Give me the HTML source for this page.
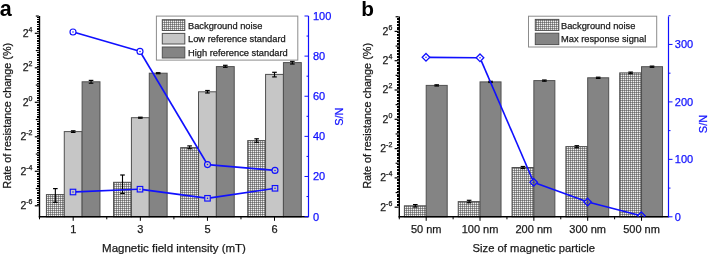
<!DOCTYPE html>
<html><head><meta charset="utf-8"><style>
html,body{margin:0;padding:0;background:#fff;width:708px;height:254px;overflow:hidden;}
svg{display:block;will-change:transform;}
</style></head><body>
<svg width="708" height="254" viewBox="0 0 708 254" font-family="Liberation Sans, sans-serif">
<defs><pattern id="hatch" width="2" height="2" patternUnits="userSpaceOnUse"><rect width="2" height="2" fill="#989898"/><rect x="0" y="0" width="1" height="1" fill="#6c6c6c"/><rect x="1" y="1" width="1" height="1" fill="#f0f0f0"/></pattern></defs>
<rect width="708" height="254" fill="#fff"/>
<rect x="46.42" y="194.60" width="17.85" height="22.20" fill="url(#hatch)" stroke="#505050" stroke-width="1"/>
<rect x="64.28" y="131.60" width="17.85" height="85.20" fill="#c6c6c6" stroke="#505050" stroke-width="1"/>
<rect x="82.12" y="81.80" width="17.85" height="135.00" fill="#848484" stroke="#505050" stroke-width="1"/>
<rect x="113.57" y="182.30" width="17.85" height="34.50" fill="url(#hatch)" stroke="#505050" stroke-width="1"/>
<rect x="131.42" y="117.70" width="17.85" height="99.10" fill="#c6c6c6" stroke="#505050" stroke-width="1"/>
<rect x="149.28" y="73.20" width="17.85" height="143.60" fill="#848484" stroke="#505050" stroke-width="1"/>
<rect x="180.67" y="147.60" width="17.85" height="69.20" fill="url(#hatch)" stroke="#505050" stroke-width="1"/>
<rect x="198.52" y="91.80" width="17.85" height="125.00" fill="#c6c6c6" stroke="#505050" stroke-width="1"/>
<rect x="216.38" y="66.60" width="17.85" height="150.20" fill="#848484" stroke="#505050" stroke-width="1"/>
<rect x="247.72" y="140.60" width="17.85" height="76.20" fill="url(#hatch)" stroke="#505050" stroke-width="1"/>
<rect x="265.57" y="74.40" width="17.85" height="142.40" fill="#c6c6c6" stroke="#505050" stroke-width="1"/>
<rect x="283.43" y="62.60" width="17.85" height="154.20" fill="#848484" stroke="#505050" stroke-width="1"/>
<line x1="55.35" y1="188.60" x2="55.35" y2="202.30" stroke="#000" stroke-width="1.1"/>
<line x1="53.05" y1="188.60" x2="57.65" y2="188.60" stroke="#000" stroke-width="1.2"/>
<line x1="53.05" y1="202.30" x2="57.65" y2="202.30" stroke="#000" stroke-width="1.2"/>
<line x1="73.20" y1="130.80" x2="73.20" y2="132.40" stroke="#000" stroke-width="1.1"/>
<line x1="70.90" y1="130.80" x2="75.50" y2="130.80" stroke="#000" stroke-width="1.2"/>
<line x1="70.90" y1="132.40" x2="75.50" y2="132.40" stroke="#000" stroke-width="1.2"/>
<line x1="91.05" y1="80.40" x2="91.05" y2="83.20" stroke="#000" stroke-width="1.1"/>
<line x1="88.75" y1="80.40" x2="93.35" y2="80.40" stroke="#000" stroke-width="1.2"/>
<line x1="88.75" y1="83.20" x2="93.35" y2="83.20" stroke="#000" stroke-width="1.2"/>
<line x1="122.50" y1="175.00" x2="122.50" y2="193.40" stroke="#000" stroke-width="1.1"/>
<line x1="120.20" y1="175.00" x2="124.80" y2="175.00" stroke="#000" stroke-width="1.2"/>
<line x1="120.20" y1="193.40" x2="124.80" y2="193.40" stroke="#000" stroke-width="1.2"/>
<line x1="140.35" y1="117.20" x2="140.35" y2="118.20" stroke="#000" stroke-width="1.1"/>
<line x1="138.05" y1="117.20" x2="142.65" y2="117.20" stroke="#000" stroke-width="1.2"/>
<line x1="138.05" y1="118.20" x2="142.65" y2="118.20" stroke="#000" stroke-width="1.2"/>
<line x1="158.20" y1="72.70" x2="158.20" y2="73.70" stroke="#000" stroke-width="1.1"/>
<line x1="155.90" y1="72.70" x2="160.50" y2="72.70" stroke="#000" stroke-width="1.2"/>
<line x1="155.90" y1="73.70" x2="160.50" y2="73.70" stroke="#000" stroke-width="1.2"/>
<line x1="189.60" y1="145.90" x2="189.60" y2="148.70" stroke="#000" stroke-width="1.1"/>
<line x1="187.30" y1="145.90" x2="191.90" y2="145.90" stroke="#000" stroke-width="1.2"/>
<line x1="187.30" y1="148.70" x2="191.90" y2="148.70" stroke="#000" stroke-width="1.2"/>
<line x1="207.45" y1="90.50" x2="207.45" y2="93.00" stroke="#000" stroke-width="1.1"/>
<line x1="205.15" y1="90.50" x2="209.75" y2="90.50" stroke="#000" stroke-width="1.2"/>
<line x1="205.15" y1="93.00" x2="209.75" y2="93.00" stroke="#000" stroke-width="1.2"/>
<line x1="225.30" y1="65.30" x2="225.30" y2="67.30" stroke="#000" stroke-width="1.1"/>
<line x1="223.00" y1="65.30" x2="227.60" y2="65.30" stroke="#000" stroke-width="1.2"/>
<line x1="223.00" y1="67.30" x2="227.60" y2="67.30" stroke="#000" stroke-width="1.2"/>
<line x1="256.65" y1="138.80" x2="256.65" y2="142.30" stroke="#000" stroke-width="1.1"/>
<line x1="254.35" y1="138.80" x2="258.95" y2="138.80" stroke="#000" stroke-width="1.2"/>
<line x1="254.35" y1="142.30" x2="258.95" y2="142.30" stroke="#000" stroke-width="1.2"/>
<line x1="274.50" y1="72.30" x2="274.50" y2="76.90" stroke="#000" stroke-width="1.1"/>
<line x1="272.20" y1="72.30" x2="276.80" y2="72.30" stroke="#000" stroke-width="1.2"/>
<line x1="272.20" y1="76.90" x2="276.80" y2="76.90" stroke="#000" stroke-width="1.2"/>
<line x1="292.35" y1="61.30" x2="292.35" y2="64.00" stroke="#000" stroke-width="1.1"/>
<line x1="290.05" y1="61.30" x2="294.65" y2="61.30" stroke="#000" stroke-width="1.2"/>
<line x1="290.05" y1="64.00" x2="294.65" y2="64.00" stroke="#000" stroke-width="1.2"/>
<rect x="156.40" y="16.10" width="141.40" height="44.00" fill="#fff" stroke="#8c8c8c" stroke-width="1"/>
<rect x="162.30" y="19.70" width="22.50" height="10.80" fill="url(#hatch)" stroke="#505050" stroke-width="1"/>
<rect x="162.30" y="33.40" width="22.50" height="10.60" fill="#c6c6c6" stroke="#505050" stroke-width="1"/>
<rect x="162.30" y="47.00" width="22.50" height="11.00" fill="#848484" stroke="#505050" stroke-width="1"/>
<text x="188.00" y="28.60" font-size="9.3" text-anchor="start" fill="#1a1a1a" stroke="#1a1a1a" stroke-width="0.25" >Background noise</text>
<text x="188.00" y="42.30" font-size="9.3" text-anchor="start" fill="#1a1a1a" stroke="#1a1a1a" stroke-width="0.25" >Low reference standard</text>
<text x="188.00" y="55.80" font-size="9.3" text-anchor="start" fill="#1a1a1a" stroke="#1a1a1a" stroke-width="0.25" >High reference standard</text>
<line x1="39.50" y1="16.00" x2="39.50" y2="217.50" stroke="#000" stroke-width="1.4"/>
<line x1="38.80" y1="216.80" x2="308.00" y2="216.80" stroke="#000" stroke-width="1.4"/>
<line x1="34.80" y1="205.80" x2="38.80" y2="205.80" stroke="#000" stroke-width="1.2"/>
<line x1="36.80" y1="204.07" x2="38.80" y2="204.07" stroke="#000" stroke-width="1" shape-rendering="crispEdges"/>
<line x1="36.80" y1="202.35" x2="38.80" y2="202.35" stroke="#000" stroke-width="1" shape-rendering="crispEdges"/>
<line x1="36.80" y1="200.62" x2="38.80" y2="200.62" stroke="#000" stroke-width="1" shape-rendering="crispEdges"/>
<line x1="36.80" y1="198.90" x2="38.80" y2="198.90" stroke="#000" stroke-width="1" shape-rendering="crispEdges"/>
<line x1="36.80" y1="197.18" x2="38.80" y2="197.18" stroke="#000" stroke-width="1" shape-rendering="crispEdges"/>
<line x1="36.80" y1="195.45" x2="38.80" y2="195.45" stroke="#000" stroke-width="1" shape-rendering="crispEdges"/>
<line x1="36.80" y1="193.72" x2="38.80" y2="193.72" stroke="#000" stroke-width="1" shape-rendering="crispEdges"/>
<line x1="36.80" y1="192.00" x2="38.80" y2="192.00" stroke="#000" stroke-width="1" shape-rendering="crispEdges"/>
<line x1="36.80" y1="190.27" x2="38.80" y2="190.27" stroke="#000" stroke-width="1" shape-rendering="crispEdges"/>
<line x1="35.80" y1="188.55" x2="38.80" y2="188.55" stroke="#000" stroke-width="1.2"/>
<line x1="36.80" y1="186.82" x2="38.80" y2="186.82" stroke="#000" stroke-width="1" shape-rendering="crispEdges"/>
<line x1="36.80" y1="185.10" x2="38.80" y2="185.10" stroke="#000" stroke-width="1" shape-rendering="crispEdges"/>
<line x1="36.80" y1="183.38" x2="38.80" y2="183.38" stroke="#000" stroke-width="1" shape-rendering="crispEdges"/>
<line x1="36.80" y1="181.65" x2="38.80" y2="181.65" stroke="#000" stroke-width="1" shape-rendering="crispEdges"/>
<line x1="36.80" y1="179.93" x2="38.80" y2="179.93" stroke="#000" stroke-width="1" shape-rendering="crispEdges"/>
<line x1="36.80" y1="178.20" x2="38.80" y2="178.20" stroke="#000" stroke-width="1" shape-rendering="crispEdges"/>
<line x1="36.80" y1="176.47" x2="38.80" y2="176.47" stroke="#000" stroke-width="1" shape-rendering="crispEdges"/>
<line x1="36.80" y1="174.75" x2="38.80" y2="174.75" stroke="#000" stroke-width="1" shape-rendering="crispEdges"/>
<line x1="36.80" y1="173.02" x2="38.80" y2="173.02" stroke="#000" stroke-width="1" shape-rendering="crispEdges"/>
<line x1="34.80" y1="171.30" x2="38.80" y2="171.30" stroke="#000" stroke-width="1.2"/>
<line x1="36.80" y1="169.57" x2="38.80" y2="169.57" stroke="#000" stroke-width="1" shape-rendering="crispEdges"/>
<line x1="36.80" y1="167.85" x2="38.80" y2="167.85" stroke="#000" stroke-width="1" shape-rendering="crispEdges"/>
<line x1="36.80" y1="166.12" x2="38.80" y2="166.12" stroke="#000" stroke-width="1" shape-rendering="crispEdges"/>
<line x1="36.80" y1="164.40" x2="38.80" y2="164.40" stroke="#000" stroke-width="1" shape-rendering="crispEdges"/>
<line x1="36.80" y1="162.68" x2="38.80" y2="162.68" stroke="#000" stroke-width="1" shape-rendering="crispEdges"/>
<line x1="36.80" y1="160.95" x2="38.80" y2="160.95" stroke="#000" stroke-width="1" shape-rendering="crispEdges"/>
<line x1="36.80" y1="159.22" x2="38.80" y2="159.22" stroke="#000" stroke-width="1" shape-rendering="crispEdges"/>
<line x1="36.80" y1="157.50" x2="38.80" y2="157.50" stroke="#000" stroke-width="1" shape-rendering="crispEdges"/>
<line x1="36.80" y1="155.78" x2="38.80" y2="155.78" stroke="#000" stroke-width="1" shape-rendering="crispEdges"/>
<line x1="35.80" y1="154.05" x2="38.80" y2="154.05" stroke="#000" stroke-width="1.2"/>
<line x1="36.80" y1="152.32" x2="38.80" y2="152.32" stroke="#000" stroke-width="1" shape-rendering="crispEdges"/>
<line x1="36.80" y1="150.60" x2="38.80" y2="150.60" stroke="#000" stroke-width="1" shape-rendering="crispEdges"/>
<line x1="36.80" y1="148.88" x2="38.80" y2="148.88" stroke="#000" stroke-width="1" shape-rendering="crispEdges"/>
<line x1="36.80" y1="147.15" x2="38.80" y2="147.15" stroke="#000" stroke-width="1" shape-rendering="crispEdges"/>
<line x1="36.80" y1="145.43" x2="38.80" y2="145.43" stroke="#000" stroke-width="1" shape-rendering="crispEdges"/>
<line x1="36.80" y1="143.70" x2="38.80" y2="143.70" stroke="#000" stroke-width="1" shape-rendering="crispEdges"/>
<line x1="36.80" y1="141.97" x2="38.80" y2="141.97" stroke="#000" stroke-width="1" shape-rendering="crispEdges"/>
<line x1="36.80" y1="140.25" x2="38.80" y2="140.25" stroke="#000" stroke-width="1" shape-rendering="crispEdges"/>
<line x1="36.80" y1="138.53" x2="38.80" y2="138.53" stroke="#000" stroke-width="1" shape-rendering="crispEdges"/>
<line x1="34.80" y1="136.80" x2="38.80" y2="136.80" stroke="#000" stroke-width="1.2"/>
<line x1="36.80" y1="135.07" x2="38.80" y2="135.07" stroke="#000" stroke-width="1" shape-rendering="crispEdges"/>
<line x1="36.80" y1="133.35" x2="38.80" y2="133.35" stroke="#000" stroke-width="1" shape-rendering="crispEdges"/>
<line x1="36.80" y1="131.62" x2="38.80" y2="131.62" stroke="#000" stroke-width="1" shape-rendering="crispEdges"/>
<line x1="36.80" y1="129.90" x2="38.80" y2="129.90" stroke="#000" stroke-width="1" shape-rendering="crispEdges"/>
<line x1="36.80" y1="128.18" x2="38.80" y2="128.18" stroke="#000" stroke-width="1" shape-rendering="crispEdges"/>
<line x1="36.80" y1="126.45" x2="38.80" y2="126.45" stroke="#000" stroke-width="1" shape-rendering="crispEdges"/>
<line x1="36.80" y1="124.72" x2="38.80" y2="124.72" stroke="#000" stroke-width="1" shape-rendering="crispEdges"/>
<line x1="36.80" y1="123.00" x2="38.80" y2="123.00" stroke="#000" stroke-width="1" shape-rendering="crispEdges"/>
<line x1="36.80" y1="121.28" x2="38.80" y2="121.28" stroke="#000" stroke-width="1" shape-rendering="crispEdges"/>
<line x1="35.80" y1="119.55" x2="38.80" y2="119.55" stroke="#000" stroke-width="1.2"/>
<line x1="36.80" y1="117.83" x2="38.80" y2="117.83" stroke="#000" stroke-width="1" shape-rendering="crispEdges"/>
<line x1="36.80" y1="116.10" x2="38.80" y2="116.10" stroke="#000" stroke-width="1" shape-rendering="crispEdges"/>
<line x1="36.80" y1="114.38" x2="38.80" y2="114.38" stroke="#000" stroke-width="1" shape-rendering="crispEdges"/>
<line x1="36.80" y1="112.65" x2="38.80" y2="112.65" stroke="#000" stroke-width="1" shape-rendering="crispEdges"/>
<line x1="36.80" y1="110.92" x2="38.80" y2="110.92" stroke="#000" stroke-width="1" shape-rendering="crispEdges"/>
<line x1="36.80" y1="109.20" x2="38.80" y2="109.20" stroke="#000" stroke-width="1" shape-rendering="crispEdges"/>
<line x1="36.80" y1="107.47" x2="38.80" y2="107.47" stroke="#000" stroke-width="1" shape-rendering="crispEdges"/>
<line x1="36.80" y1="105.75" x2="38.80" y2="105.75" stroke="#000" stroke-width="1" shape-rendering="crispEdges"/>
<line x1="36.80" y1="104.02" x2="38.80" y2="104.02" stroke="#000" stroke-width="1" shape-rendering="crispEdges"/>
<line x1="34.80" y1="102.30" x2="38.80" y2="102.30" stroke="#000" stroke-width="1.2"/>
<line x1="36.80" y1="100.58" x2="38.80" y2="100.58" stroke="#000" stroke-width="1" shape-rendering="crispEdges"/>
<line x1="36.80" y1="98.85" x2="38.80" y2="98.85" stroke="#000" stroke-width="1" shape-rendering="crispEdges"/>
<line x1="36.80" y1="97.12" x2="38.80" y2="97.12" stroke="#000" stroke-width="1" shape-rendering="crispEdges"/>
<line x1="36.80" y1="95.40" x2="38.80" y2="95.40" stroke="#000" stroke-width="1" shape-rendering="crispEdges"/>
<line x1="36.80" y1="93.67" x2="38.80" y2="93.67" stroke="#000" stroke-width="1" shape-rendering="crispEdges"/>
<line x1="36.80" y1="91.95" x2="38.80" y2="91.95" stroke="#000" stroke-width="1" shape-rendering="crispEdges"/>
<line x1="36.80" y1="90.22" x2="38.80" y2="90.22" stroke="#000" stroke-width="1" shape-rendering="crispEdges"/>
<line x1="36.80" y1="88.50" x2="38.80" y2="88.50" stroke="#000" stroke-width="1" shape-rendering="crispEdges"/>
<line x1="36.80" y1="86.77" x2="38.80" y2="86.77" stroke="#000" stroke-width="1" shape-rendering="crispEdges"/>
<line x1="35.80" y1="85.05" x2="38.80" y2="85.05" stroke="#000" stroke-width="1.2"/>
<line x1="36.80" y1="83.32" x2="38.80" y2="83.32" stroke="#000" stroke-width="1" shape-rendering="crispEdges"/>
<line x1="36.80" y1="81.60" x2="38.80" y2="81.60" stroke="#000" stroke-width="1" shape-rendering="crispEdges"/>
<line x1="36.80" y1="79.88" x2="38.80" y2="79.88" stroke="#000" stroke-width="1" shape-rendering="crispEdges"/>
<line x1="36.80" y1="78.15" x2="38.80" y2="78.15" stroke="#000" stroke-width="1" shape-rendering="crispEdges"/>
<line x1="36.80" y1="76.42" x2="38.80" y2="76.42" stroke="#000" stroke-width="1" shape-rendering="crispEdges"/>
<line x1="36.80" y1="74.70" x2="38.80" y2="74.70" stroke="#000" stroke-width="1" shape-rendering="crispEdges"/>
<line x1="36.80" y1="72.97" x2="38.80" y2="72.97" stroke="#000" stroke-width="1" shape-rendering="crispEdges"/>
<line x1="36.80" y1="71.25" x2="38.80" y2="71.25" stroke="#000" stroke-width="1" shape-rendering="crispEdges"/>
<line x1="36.80" y1="69.53" x2="38.80" y2="69.53" stroke="#000" stroke-width="1" shape-rendering="crispEdges"/>
<line x1="34.80" y1="67.80" x2="38.80" y2="67.80" stroke="#000" stroke-width="1.2"/>
<line x1="36.80" y1="66.07" x2="38.80" y2="66.07" stroke="#000" stroke-width="1" shape-rendering="crispEdges"/>
<line x1="36.80" y1="64.35" x2="38.80" y2="64.35" stroke="#000" stroke-width="1" shape-rendering="crispEdges"/>
<line x1="36.80" y1="62.62" x2="38.80" y2="62.62" stroke="#000" stroke-width="1" shape-rendering="crispEdges"/>
<line x1="36.80" y1="60.90" x2="38.80" y2="60.90" stroke="#000" stroke-width="1" shape-rendering="crispEdges"/>
<line x1="36.80" y1="59.17" x2="38.80" y2="59.17" stroke="#000" stroke-width="1" shape-rendering="crispEdges"/>
<line x1="36.80" y1="57.45" x2="38.80" y2="57.45" stroke="#000" stroke-width="1" shape-rendering="crispEdges"/>
<line x1="36.80" y1="55.72" x2="38.80" y2="55.72" stroke="#000" stroke-width="1" shape-rendering="crispEdges"/>
<line x1="36.80" y1="54.00" x2="38.80" y2="54.00" stroke="#000" stroke-width="1" shape-rendering="crispEdges"/>
<line x1="36.80" y1="52.27" x2="38.80" y2="52.27" stroke="#000" stroke-width="1" shape-rendering="crispEdges"/>
<line x1="35.80" y1="50.55" x2="38.80" y2="50.55" stroke="#000" stroke-width="1.2"/>
<line x1="36.80" y1="48.82" x2="38.80" y2="48.82" stroke="#000" stroke-width="1" shape-rendering="crispEdges"/>
<line x1="36.80" y1="47.10" x2="38.80" y2="47.10" stroke="#000" stroke-width="1" shape-rendering="crispEdges"/>
<line x1="36.80" y1="45.38" x2="38.80" y2="45.38" stroke="#000" stroke-width="1" shape-rendering="crispEdges"/>
<line x1="36.80" y1="43.65" x2="38.80" y2="43.65" stroke="#000" stroke-width="1" shape-rendering="crispEdges"/>
<line x1="36.80" y1="41.92" x2="38.80" y2="41.92" stroke="#000" stroke-width="1" shape-rendering="crispEdges"/>
<line x1="36.80" y1="40.20" x2="38.80" y2="40.20" stroke="#000" stroke-width="1" shape-rendering="crispEdges"/>
<line x1="36.80" y1="38.47" x2="38.80" y2="38.47" stroke="#000" stroke-width="1" shape-rendering="crispEdges"/>
<line x1="36.80" y1="36.75" x2="38.80" y2="36.75" stroke="#000" stroke-width="1" shape-rendering="crispEdges"/>
<line x1="36.80" y1="35.03" x2="38.80" y2="35.03" stroke="#000" stroke-width="1" shape-rendering="crispEdges"/>
<line x1="34.80" y1="33.30" x2="38.80" y2="33.30" stroke="#000" stroke-width="1.2"/>
<line x1="36.80" y1="31.58" x2="38.80" y2="31.58" stroke="#000" stroke-width="1" shape-rendering="crispEdges"/>
<line x1="36.80" y1="29.85" x2="38.80" y2="29.85" stroke="#000" stroke-width="1" shape-rendering="crispEdges"/>
<line x1="36.80" y1="28.12" x2="38.80" y2="28.12" stroke="#000" stroke-width="1" shape-rendering="crispEdges"/>
<line x1="36.80" y1="26.40" x2="38.80" y2="26.40" stroke="#000" stroke-width="1" shape-rendering="crispEdges"/>
<line x1="36.80" y1="24.67" x2="38.80" y2="24.67" stroke="#000" stroke-width="1" shape-rendering="crispEdges"/>
<line x1="36.80" y1="22.95" x2="38.80" y2="22.95" stroke="#000" stroke-width="1" shape-rendering="crispEdges"/>
<line x1="36.80" y1="21.22" x2="38.80" y2="21.22" stroke="#000" stroke-width="1" shape-rendering="crispEdges"/>
<line x1="36.80" y1="19.50" x2="38.80" y2="19.50" stroke="#000" stroke-width="1" shape-rendering="crispEdges"/>
<line x1="36.80" y1="17.77" x2="38.80" y2="17.77" stroke="#000" stroke-width="1" shape-rendering="crispEdges"/>
<line x1="35.80" y1="16.05" x2="38.80" y2="16.05" stroke="#000" stroke-width="1.2"/>
<text x="32.50" y="209.20" font-size="10.5" text-anchor="end" fill="#1a1a1a" stroke="#1a1a1a" stroke-width="0.25">2<tspan font-size="7" dy="-5.0">-6</tspan></text>
<text x="32.50" y="174.70" font-size="10.5" text-anchor="end" fill="#1a1a1a" stroke="#1a1a1a" stroke-width="0.25">2<tspan font-size="7" dy="-5.0">-4</tspan></text>
<text x="32.50" y="140.20" font-size="10.5" text-anchor="end" fill="#1a1a1a" stroke="#1a1a1a" stroke-width="0.25">2<tspan font-size="7" dy="-5.0">-2</tspan></text>
<text x="32.50" y="105.70" font-size="10.5" text-anchor="end" fill="#1a1a1a" stroke="#1a1a1a" stroke-width="0.25">2<tspan font-size="7" dy="-5.0">0</tspan></text>
<text x="32.50" y="71.20" font-size="10.5" text-anchor="end" fill="#1a1a1a" stroke="#1a1a1a" stroke-width="0.25">2<tspan font-size="7" dy="-5.0">2</tspan></text>
<text x="32.50" y="36.70" font-size="10.5" text-anchor="end" fill="#1a1a1a" stroke="#1a1a1a" stroke-width="0.25">2<tspan font-size="7" dy="-5.0">4</tspan></text>
<line x1="73.20" y1="216.80" x2="73.20" y2="220.80" stroke="#000" stroke-width="1"/>
<line x1="140.35" y1="216.80" x2="140.35" y2="220.80" stroke="#000" stroke-width="1"/>
<line x1="207.45" y1="216.80" x2="207.45" y2="220.80" stroke="#000" stroke-width="1"/>
<line x1="274.50" y1="216.80" x2="274.50" y2="220.80" stroke="#000" stroke-width="1"/>
<line x1="39.50" y1="216.80" x2="39.50" y2="219.30" stroke="#000" stroke-width="1"/>
<line x1="106.78" y1="216.80" x2="106.78" y2="219.30" stroke="#000" stroke-width="1"/>
<line x1="173.90" y1="216.80" x2="173.90" y2="219.30" stroke="#000" stroke-width="1"/>
<line x1="240.97" y1="216.80" x2="240.97" y2="219.30" stroke="#000" stroke-width="1"/>
<text x="73.20" y="232.50" font-size="11" text-anchor="middle" fill="#1a1a1a" stroke="#1a1a1a" stroke-width="0.25" >1</text>
<text x="140.35" y="232.50" font-size="11" text-anchor="middle" fill="#1a1a1a" stroke="#1a1a1a" stroke-width="0.25" >3</text>
<text x="207.45" y="232.50" font-size="11" text-anchor="middle" fill="#1a1a1a" stroke="#1a1a1a" stroke-width="0.25" >5</text>
<text x="274.50" y="232.50" font-size="11" text-anchor="middle" fill="#1a1a1a" stroke="#1a1a1a" stroke-width="0.25" >6</text>
<text x="174.00" y="252.10" font-size="11.5" text-anchor="middle" fill="#1a1a1a" stroke="#1a1a1a" stroke-width="0.25" >Magnetic field intensity (mT)</text>
<text transform="translate(10.6,115.7) rotate(-90)" font-size="10.85" text-anchor="middle" fill="#1a1a1a" stroke="#1a1a1a" stroke-width="0.25">Rate of resistance change (%)</text>
<line x1="308.50" y1="16.00" x2="308.50" y2="217.40" stroke="#1010ff" stroke-width="1.2"/>
<line x1="304.50" y1="216.60" x2="308.50" y2="216.60" stroke="#1010ff" stroke-width="1"/>
<line x1="306.50" y1="196.54" x2="308.50" y2="196.54" stroke="#1010ff" stroke-width="1"/>
<line x1="304.50" y1="176.48" x2="308.50" y2="176.48" stroke="#1010ff" stroke-width="1"/>
<line x1="306.50" y1="156.42" x2="308.50" y2="156.42" stroke="#1010ff" stroke-width="1"/>
<line x1="304.50" y1="136.36" x2="308.50" y2="136.36" stroke="#1010ff" stroke-width="1"/>
<line x1="306.50" y1="116.30" x2="308.50" y2="116.30" stroke="#1010ff" stroke-width="1"/>
<line x1="304.50" y1="96.24" x2="308.50" y2="96.24" stroke="#1010ff" stroke-width="1"/>
<line x1="306.50" y1="76.18" x2="308.50" y2="76.18" stroke="#1010ff" stroke-width="1"/>
<line x1="304.50" y1="56.12" x2="308.50" y2="56.12" stroke="#1010ff" stroke-width="1"/>
<line x1="306.50" y1="36.06" x2="308.50" y2="36.06" stroke="#1010ff" stroke-width="1"/>
<line x1="304.50" y1="16.00" x2="308.50" y2="16.00" stroke="#1010ff" stroke-width="1"/>
<text x="313.00" y="220.50" font-size="11" text-anchor="start" fill="#1010ff" stroke="#1010ff" stroke-width="0.25" >0</text>
<text x="313.00" y="180.38" font-size="11" text-anchor="start" fill="#1010ff" stroke="#1010ff" stroke-width="0.25" >20</text>
<text x="313.00" y="140.26" font-size="11" text-anchor="start" fill="#1010ff" stroke="#1010ff" stroke-width="0.25" >40</text>
<text x="313.00" y="100.14" font-size="11" text-anchor="start" fill="#1010ff" stroke="#1010ff" stroke-width="0.25" >60</text>
<text x="313.00" y="60.02" font-size="11" text-anchor="start" fill="#1010ff" stroke="#1010ff" stroke-width="0.25" >80</text>
<text x="313.00" y="19.90" font-size="11" text-anchor="start" fill="#1010ff" stroke="#1010ff" stroke-width="0.25" >100</text>
<text transform="translate(343.2,116.7) rotate(-90)" font-size="11" text-anchor="middle" fill="#1010ff" stroke="#1010ff" stroke-width="0.25">S/N</text>
<line x1="75.88" y1="32.83" x2="137.12" y2="50.57" stroke="#1010ff" stroke-width="1.6"/>
<line x1="141.54" y1="53.98" x2="205.96" y2="162.02" stroke="#1010ff" stroke-width="1.6"/>
<line x1="210.49" y1="164.86" x2="272.01" y2="170.14" stroke="#1010ff" stroke-width="1.6"/>
<line x1="75.90" y1="191.88" x2="137.10" y2="189.32" stroke="#1010ff" stroke-width="1.6"/>
<line x1="142.87" y1="189.59" x2="204.63" y2="197.91" stroke="#1010ff" stroke-width="1.6"/>
<line x1="210.37" y1="197.88" x2="272.13" y2="188.72" stroke="#1010ff" stroke-width="1.6"/>
<circle cx="73" cy="32" r="3.0" fill="none" stroke="#1010ff" stroke-width="1.15"/><circle cx="73" cy="32" r="0.75" fill="#1010ff"/>
<circle cx="140" cy="51.4" r="3.0" fill="none" stroke="#1010ff" stroke-width="1.15"/><circle cx="140" cy="51.4" r="0.75" fill="#1010ff"/>
<circle cx="207.5" cy="164.6" r="3.0" fill="none" stroke="#1010ff" stroke-width="1.15"/><circle cx="207.5" cy="164.6" r="0.75" fill="#1010ff"/>
<circle cx="275" cy="170.4" r="3.0" fill="none" stroke="#1010ff" stroke-width="1.15"/><circle cx="275" cy="170.4" r="0.75" fill="#1010ff"/>
<rect x="70.25" y="189.25" width="5.5" height="5.5" fill="none" stroke="#1010ff" stroke-width="1.15"/><circle cx="73" cy="192" r="0.75" fill="#1010ff"/>
<rect x="137.25" y="186.45" width="5.5" height="5.5" fill="none" stroke="#1010ff" stroke-width="1.15"/><circle cx="140" cy="189.2" r="0.75" fill="#1010ff"/>
<rect x="204.75" y="195.55" width="5.5" height="5.5" fill="none" stroke="#1010ff" stroke-width="1.15"/><circle cx="207.5" cy="198.3" r="0.75" fill="#1010ff"/>
<rect x="272.25" y="185.55" width="5.5" height="5.5" fill="none" stroke="#1010ff" stroke-width="1.15"/><circle cx="275" cy="188.3" r="0.75" fill="#1010ff"/>
<text x="-0.3" y="16.2" font-size="21.5" font-weight="bold" fill="#000">a</text>
<rect x="404.40" y="205.80" width="21.80" height="11.00" fill="url(#hatch)" stroke="#505050" stroke-width="1"/>
<rect x="426.20" y="85.40" width="21.00" height="131.40" fill="#848484" stroke="#505050" stroke-width="1"/>
<rect x="458.23" y="201.60" width="21.80" height="15.20" fill="url(#hatch)" stroke="#505050" stroke-width="1"/>
<rect x="480.03" y="81.90" width="21.00" height="134.90" fill="#848484" stroke="#505050" stroke-width="1"/>
<rect x="512.06" y="167.50" width="21.80" height="49.30" fill="url(#hatch)" stroke="#505050" stroke-width="1"/>
<rect x="533.86" y="80.60" width="21.00" height="136.20" fill="#848484" stroke="#505050" stroke-width="1"/>
<rect x="565.89" y="146.60" width="21.80" height="70.20" fill="url(#hatch)" stroke="#505050" stroke-width="1"/>
<rect x="587.69" y="77.80" width="21.00" height="139.00" fill="#848484" stroke="#505050" stroke-width="1"/>
<rect x="619.72" y="72.90" width="21.80" height="143.90" fill="url(#hatch)" stroke="#505050" stroke-width="1"/>
<rect x="641.52" y="66.70" width="21.00" height="150.10" fill="#848484" stroke="#505050" stroke-width="1"/>
<line x1="415.30" y1="204.60" x2="415.30" y2="207.00" stroke="#000" stroke-width="1.1"/>
<line x1="413.00" y1="204.60" x2="417.60" y2="204.60" stroke="#000" stroke-width="1.2"/>
<line x1="413.00" y1="207.00" x2="417.60" y2="207.00" stroke="#000" stroke-width="1.2"/>
<line x1="436.70" y1="84.80" x2="436.70" y2="86.00" stroke="#000" stroke-width="1.1"/>
<line x1="434.40" y1="84.80" x2="439.00" y2="84.80" stroke="#000" stroke-width="1.2"/>
<line x1="434.40" y1="86.00" x2="439.00" y2="86.00" stroke="#000" stroke-width="1.2"/>
<line x1="469.13" y1="200.30" x2="469.13" y2="202.70" stroke="#000" stroke-width="1.1"/>
<line x1="466.83" y1="200.30" x2="471.43" y2="200.30" stroke="#000" stroke-width="1.2"/>
<line x1="466.83" y1="202.70" x2="471.43" y2="202.70" stroke="#000" stroke-width="1.2"/>
<line x1="490.53" y1="81.30" x2="490.53" y2="82.50" stroke="#000" stroke-width="1.1"/>
<line x1="488.23" y1="81.30" x2="492.83" y2="81.30" stroke="#000" stroke-width="1.2"/>
<line x1="488.23" y1="82.50" x2="492.83" y2="82.50" stroke="#000" stroke-width="1.2"/>
<line x1="522.96" y1="166.50" x2="522.96" y2="168.50" stroke="#000" stroke-width="1.1"/>
<line x1="520.66" y1="166.50" x2="525.26" y2="166.50" stroke="#000" stroke-width="1.2"/>
<line x1="520.66" y1="168.50" x2="525.26" y2="168.50" stroke="#000" stroke-width="1.2"/>
<line x1="544.36" y1="80.00" x2="544.36" y2="81.20" stroke="#000" stroke-width="1.1"/>
<line x1="542.06" y1="80.00" x2="546.66" y2="80.00" stroke="#000" stroke-width="1.2"/>
<line x1="542.06" y1="81.20" x2="546.66" y2="81.20" stroke="#000" stroke-width="1.2"/>
<line x1="576.79" y1="145.70" x2="576.79" y2="147.70" stroke="#000" stroke-width="1.1"/>
<line x1="574.49" y1="145.70" x2="579.09" y2="145.70" stroke="#000" stroke-width="1.2"/>
<line x1="574.49" y1="147.70" x2="579.09" y2="147.70" stroke="#000" stroke-width="1.2"/>
<line x1="598.19" y1="77.20" x2="598.19" y2="78.40" stroke="#000" stroke-width="1.1"/>
<line x1="595.89" y1="77.20" x2="600.49" y2="77.20" stroke="#000" stroke-width="1.2"/>
<line x1="595.89" y1="78.40" x2="600.49" y2="78.40" stroke="#000" stroke-width="1.2"/>
<line x1="630.62" y1="72.10" x2="630.62" y2="73.70" stroke="#000" stroke-width="1.1"/>
<line x1="628.32" y1="72.10" x2="632.92" y2="72.10" stroke="#000" stroke-width="1.2"/>
<line x1="628.32" y1="73.70" x2="632.92" y2="73.70" stroke="#000" stroke-width="1.2"/>
<line x1="652.02" y1="66.10" x2="652.02" y2="67.30" stroke="#000" stroke-width="1.1"/>
<line x1="649.72" y1="66.10" x2="654.32" y2="66.10" stroke="#000" stroke-width="1.2"/>
<line x1="649.72" y1="67.30" x2="654.32" y2="67.30" stroke="#000" stroke-width="1.2"/>
<rect x="528.50" y="16.20" width="128.20" height="30.80" fill="#fff" stroke="#8c8c8c" stroke-width="1"/>
<rect x="535.30" y="19.40" width="23.50" height="11.00" fill="url(#hatch)" stroke="#505050" stroke-width="1"/>
<rect x="535.30" y="33.20" width="23.50" height="11.40" fill="#848484" stroke="#505050" stroke-width="1"/>
<text x="561.00" y="28.60" font-size="9.3" text-anchor="start" fill="#1a1a1a" stroke="#1a1a1a" stroke-width="0.25" >Background noise</text>
<text x="561.00" y="41.90" font-size="9.3" text-anchor="start" fill="#1a1a1a" stroke="#1a1a1a" stroke-width="0.25" >Max response signal</text>
<line x1="399.30" y1="16.40" x2="399.30" y2="217.50" stroke="#000" stroke-width="1.4"/>
<line x1="398.60" y1="216.80" x2="668.50" y2="216.80" stroke="#000" stroke-width="1.4"/>
<line x1="394.60" y1="207.20" x2="398.60" y2="207.20" stroke="#000" stroke-width="1.2"/>
<line x1="396.60" y1="205.74" x2="398.60" y2="205.74" stroke="#000" stroke-width="1" shape-rendering="crispEdges"/>
<line x1="396.60" y1="204.27" x2="398.60" y2="204.27" stroke="#000" stroke-width="1" shape-rendering="crispEdges"/>
<line x1="396.60" y1="202.81" x2="398.60" y2="202.81" stroke="#000" stroke-width="1" shape-rendering="crispEdges"/>
<line x1="396.60" y1="201.34" x2="398.60" y2="201.34" stroke="#000" stroke-width="1" shape-rendering="crispEdges"/>
<line x1="396.60" y1="199.88" x2="398.60" y2="199.88" stroke="#000" stroke-width="1" shape-rendering="crispEdges"/>
<line x1="396.60" y1="198.41" x2="398.60" y2="198.41" stroke="#000" stroke-width="1" shape-rendering="crispEdges"/>
<line x1="396.60" y1="196.94" x2="398.60" y2="196.94" stroke="#000" stroke-width="1" shape-rendering="crispEdges"/>
<line x1="396.60" y1="195.48" x2="398.60" y2="195.48" stroke="#000" stroke-width="1" shape-rendering="crispEdges"/>
<line x1="396.60" y1="194.01" x2="398.60" y2="194.01" stroke="#000" stroke-width="1" shape-rendering="crispEdges"/>
<line x1="395.60" y1="192.55" x2="398.60" y2="192.55" stroke="#000" stroke-width="1.2"/>
<line x1="396.60" y1="191.09" x2="398.60" y2="191.09" stroke="#000" stroke-width="1" shape-rendering="crispEdges"/>
<line x1="396.60" y1="189.62" x2="398.60" y2="189.62" stroke="#000" stroke-width="1" shape-rendering="crispEdges"/>
<line x1="396.60" y1="188.16" x2="398.60" y2="188.16" stroke="#000" stroke-width="1" shape-rendering="crispEdges"/>
<line x1="396.60" y1="186.69" x2="398.60" y2="186.69" stroke="#000" stroke-width="1" shape-rendering="crispEdges"/>
<line x1="396.60" y1="185.22" x2="398.60" y2="185.22" stroke="#000" stroke-width="1" shape-rendering="crispEdges"/>
<line x1="396.60" y1="183.76" x2="398.60" y2="183.76" stroke="#000" stroke-width="1" shape-rendering="crispEdges"/>
<line x1="396.60" y1="182.29" x2="398.60" y2="182.29" stroke="#000" stroke-width="1" shape-rendering="crispEdges"/>
<line x1="396.60" y1="180.83" x2="398.60" y2="180.83" stroke="#000" stroke-width="1" shape-rendering="crispEdges"/>
<line x1="396.60" y1="179.37" x2="398.60" y2="179.37" stroke="#000" stroke-width="1" shape-rendering="crispEdges"/>
<line x1="394.60" y1="177.90" x2="398.60" y2="177.90" stroke="#000" stroke-width="1.2"/>
<line x1="396.60" y1="176.44" x2="398.60" y2="176.44" stroke="#000" stroke-width="1" shape-rendering="crispEdges"/>
<line x1="396.60" y1="174.97" x2="398.60" y2="174.97" stroke="#000" stroke-width="1" shape-rendering="crispEdges"/>
<line x1="396.60" y1="173.50" x2="398.60" y2="173.50" stroke="#000" stroke-width="1" shape-rendering="crispEdges"/>
<line x1="396.60" y1="172.04" x2="398.60" y2="172.04" stroke="#000" stroke-width="1" shape-rendering="crispEdges"/>
<line x1="396.60" y1="170.57" x2="398.60" y2="170.57" stroke="#000" stroke-width="1" shape-rendering="crispEdges"/>
<line x1="396.60" y1="169.11" x2="398.60" y2="169.11" stroke="#000" stroke-width="1" shape-rendering="crispEdges"/>
<line x1="396.60" y1="167.64" x2="398.60" y2="167.64" stroke="#000" stroke-width="1" shape-rendering="crispEdges"/>
<line x1="396.60" y1="166.18" x2="398.60" y2="166.18" stroke="#000" stroke-width="1" shape-rendering="crispEdges"/>
<line x1="396.60" y1="164.72" x2="398.60" y2="164.72" stroke="#000" stroke-width="1" shape-rendering="crispEdges"/>
<line x1="395.60" y1="163.25" x2="398.60" y2="163.25" stroke="#000" stroke-width="1.2"/>
<line x1="396.60" y1="161.78" x2="398.60" y2="161.78" stroke="#000" stroke-width="1" shape-rendering="crispEdges"/>
<line x1="396.60" y1="160.32" x2="398.60" y2="160.32" stroke="#000" stroke-width="1" shape-rendering="crispEdges"/>
<line x1="396.60" y1="158.86" x2="398.60" y2="158.86" stroke="#000" stroke-width="1" shape-rendering="crispEdges"/>
<line x1="396.60" y1="157.39" x2="398.60" y2="157.39" stroke="#000" stroke-width="1" shape-rendering="crispEdges"/>
<line x1="396.60" y1="155.93" x2="398.60" y2="155.93" stroke="#000" stroke-width="1" shape-rendering="crispEdges"/>
<line x1="396.60" y1="154.46" x2="398.60" y2="154.46" stroke="#000" stroke-width="1" shape-rendering="crispEdges"/>
<line x1="396.60" y1="153.00" x2="398.60" y2="153.00" stroke="#000" stroke-width="1" shape-rendering="crispEdges"/>
<line x1="396.60" y1="151.53" x2="398.60" y2="151.53" stroke="#000" stroke-width="1" shape-rendering="crispEdges"/>
<line x1="396.60" y1="150.06" x2="398.60" y2="150.06" stroke="#000" stroke-width="1" shape-rendering="crispEdges"/>
<line x1="394.60" y1="148.60" x2="398.60" y2="148.60" stroke="#000" stroke-width="1.2"/>
<line x1="396.60" y1="147.13" x2="398.60" y2="147.13" stroke="#000" stroke-width="1" shape-rendering="crispEdges"/>
<line x1="396.60" y1="145.67" x2="398.60" y2="145.67" stroke="#000" stroke-width="1" shape-rendering="crispEdges"/>
<line x1="396.60" y1="144.20" x2="398.60" y2="144.20" stroke="#000" stroke-width="1" shape-rendering="crispEdges"/>
<line x1="396.60" y1="142.74" x2="398.60" y2="142.74" stroke="#000" stroke-width="1" shape-rendering="crispEdges"/>
<line x1="396.60" y1="141.28" x2="398.60" y2="141.28" stroke="#000" stroke-width="1" shape-rendering="crispEdges"/>
<line x1="396.60" y1="139.81" x2="398.60" y2="139.81" stroke="#000" stroke-width="1" shape-rendering="crispEdges"/>
<line x1="396.60" y1="138.34" x2="398.60" y2="138.34" stroke="#000" stroke-width="1" shape-rendering="crispEdges"/>
<line x1="396.60" y1="136.88" x2="398.60" y2="136.88" stroke="#000" stroke-width="1" shape-rendering="crispEdges"/>
<line x1="396.60" y1="135.41" x2="398.60" y2="135.41" stroke="#000" stroke-width="1" shape-rendering="crispEdges"/>
<line x1="395.60" y1="133.95" x2="398.60" y2="133.95" stroke="#000" stroke-width="1.2"/>
<line x1="396.60" y1="132.48" x2="398.60" y2="132.48" stroke="#000" stroke-width="1" shape-rendering="crispEdges"/>
<line x1="396.60" y1="131.02" x2="398.60" y2="131.02" stroke="#000" stroke-width="1" shape-rendering="crispEdges"/>
<line x1="396.60" y1="129.56" x2="398.60" y2="129.56" stroke="#000" stroke-width="1" shape-rendering="crispEdges"/>
<line x1="396.60" y1="128.09" x2="398.60" y2="128.09" stroke="#000" stroke-width="1" shape-rendering="crispEdges"/>
<line x1="396.60" y1="126.62" x2="398.60" y2="126.62" stroke="#000" stroke-width="1" shape-rendering="crispEdges"/>
<line x1="396.60" y1="125.16" x2="398.60" y2="125.16" stroke="#000" stroke-width="1" shape-rendering="crispEdges"/>
<line x1="396.60" y1="123.69" x2="398.60" y2="123.69" stroke="#000" stroke-width="1" shape-rendering="crispEdges"/>
<line x1="396.60" y1="122.23" x2="398.60" y2="122.23" stroke="#000" stroke-width="1" shape-rendering="crispEdges"/>
<line x1="396.60" y1="120.77" x2="398.60" y2="120.77" stroke="#000" stroke-width="1" shape-rendering="crispEdges"/>
<line x1="394.60" y1="119.30" x2="398.60" y2="119.30" stroke="#000" stroke-width="1.2"/>
<line x1="396.60" y1="117.83" x2="398.60" y2="117.83" stroke="#000" stroke-width="1" shape-rendering="crispEdges"/>
<line x1="396.60" y1="116.37" x2="398.60" y2="116.37" stroke="#000" stroke-width="1" shape-rendering="crispEdges"/>
<line x1="396.60" y1="114.91" x2="398.60" y2="114.91" stroke="#000" stroke-width="1" shape-rendering="crispEdges"/>
<line x1="396.60" y1="113.44" x2="398.60" y2="113.44" stroke="#000" stroke-width="1" shape-rendering="crispEdges"/>
<line x1="396.60" y1="111.97" x2="398.60" y2="111.97" stroke="#000" stroke-width="1" shape-rendering="crispEdges"/>
<line x1="396.60" y1="110.51" x2="398.60" y2="110.51" stroke="#000" stroke-width="1" shape-rendering="crispEdges"/>
<line x1="396.60" y1="109.05" x2="398.60" y2="109.05" stroke="#000" stroke-width="1" shape-rendering="crispEdges"/>
<line x1="396.60" y1="107.58" x2="398.60" y2="107.58" stroke="#000" stroke-width="1" shape-rendering="crispEdges"/>
<line x1="396.60" y1="106.11" x2="398.60" y2="106.11" stroke="#000" stroke-width="1" shape-rendering="crispEdges"/>
<line x1="395.60" y1="104.65" x2="398.60" y2="104.65" stroke="#000" stroke-width="1.2"/>
<line x1="396.60" y1="103.19" x2="398.60" y2="103.19" stroke="#000" stroke-width="1" shape-rendering="crispEdges"/>
<line x1="396.60" y1="101.72" x2="398.60" y2="101.72" stroke="#000" stroke-width="1" shape-rendering="crispEdges"/>
<line x1="396.60" y1="100.25" x2="398.60" y2="100.25" stroke="#000" stroke-width="1" shape-rendering="crispEdges"/>
<line x1="396.60" y1="98.79" x2="398.60" y2="98.79" stroke="#000" stroke-width="1" shape-rendering="crispEdges"/>
<line x1="396.60" y1="97.32" x2="398.60" y2="97.32" stroke="#000" stroke-width="1" shape-rendering="crispEdges"/>
<line x1="396.60" y1="95.86" x2="398.60" y2="95.86" stroke="#000" stroke-width="1" shape-rendering="crispEdges"/>
<line x1="396.60" y1="94.39" x2="398.60" y2="94.39" stroke="#000" stroke-width="1" shape-rendering="crispEdges"/>
<line x1="396.60" y1="92.93" x2="398.60" y2="92.93" stroke="#000" stroke-width="1" shape-rendering="crispEdges"/>
<line x1="396.60" y1="91.47" x2="398.60" y2="91.47" stroke="#000" stroke-width="1" shape-rendering="crispEdges"/>
<line x1="394.60" y1="90.00" x2="398.60" y2="90.00" stroke="#000" stroke-width="1.2"/>
<line x1="396.60" y1="88.53" x2="398.60" y2="88.53" stroke="#000" stroke-width="1" shape-rendering="crispEdges"/>
<line x1="396.60" y1="87.07" x2="398.60" y2="87.07" stroke="#000" stroke-width="1" shape-rendering="crispEdges"/>
<line x1="396.60" y1="85.60" x2="398.60" y2="85.60" stroke="#000" stroke-width="1" shape-rendering="crispEdges"/>
<line x1="396.60" y1="84.14" x2="398.60" y2="84.14" stroke="#000" stroke-width="1" shape-rendering="crispEdges"/>
<line x1="396.60" y1="82.67" x2="398.60" y2="82.67" stroke="#000" stroke-width="1" shape-rendering="crispEdges"/>
<line x1="396.60" y1="81.21" x2="398.60" y2="81.21" stroke="#000" stroke-width="1" shape-rendering="crispEdges"/>
<line x1="396.60" y1="79.74" x2="398.60" y2="79.74" stroke="#000" stroke-width="1" shape-rendering="crispEdges"/>
<line x1="396.60" y1="78.28" x2="398.60" y2="78.28" stroke="#000" stroke-width="1" shape-rendering="crispEdges"/>
<line x1="396.60" y1="76.81" x2="398.60" y2="76.81" stroke="#000" stroke-width="1" shape-rendering="crispEdges"/>
<line x1="395.60" y1="75.35" x2="398.60" y2="75.35" stroke="#000" stroke-width="1.2"/>
<line x1="396.60" y1="73.88" x2="398.60" y2="73.88" stroke="#000" stroke-width="1" shape-rendering="crispEdges"/>
<line x1="396.60" y1="72.42" x2="398.60" y2="72.42" stroke="#000" stroke-width="1" shape-rendering="crispEdges"/>
<line x1="396.60" y1="70.95" x2="398.60" y2="70.95" stroke="#000" stroke-width="1" shape-rendering="crispEdges"/>
<line x1="396.60" y1="69.49" x2="398.60" y2="69.49" stroke="#000" stroke-width="1" shape-rendering="crispEdges"/>
<line x1="396.60" y1="68.03" x2="398.60" y2="68.03" stroke="#000" stroke-width="1" shape-rendering="crispEdges"/>
<line x1="396.60" y1="66.56" x2="398.60" y2="66.56" stroke="#000" stroke-width="1" shape-rendering="crispEdges"/>
<line x1="396.60" y1="65.09" x2="398.60" y2="65.09" stroke="#000" stroke-width="1" shape-rendering="crispEdges"/>
<line x1="396.60" y1="63.63" x2="398.60" y2="63.63" stroke="#000" stroke-width="1" shape-rendering="crispEdges"/>
<line x1="396.60" y1="62.16" x2="398.60" y2="62.16" stroke="#000" stroke-width="1" shape-rendering="crispEdges"/>
<line x1="394.60" y1="60.70" x2="398.60" y2="60.70" stroke="#000" stroke-width="1.2"/>
<line x1="396.60" y1="59.23" x2="398.60" y2="59.23" stroke="#000" stroke-width="1" shape-rendering="crispEdges"/>
<line x1="396.60" y1="57.77" x2="398.60" y2="57.77" stroke="#000" stroke-width="1" shape-rendering="crispEdges"/>
<line x1="396.60" y1="56.30" x2="398.60" y2="56.30" stroke="#000" stroke-width="1" shape-rendering="crispEdges"/>
<line x1="396.60" y1="54.84" x2="398.60" y2="54.84" stroke="#000" stroke-width="1" shape-rendering="crispEdges"/>
<line x1="396.60" y1="53.38" x2="398.60" y2="53.38" stroke="#000" stroke-width="1" shape-rendering="crispEdges"/>
<line x1="396.60" y1="51.91" x2="398.60" y2="51.91" stroke="#000" stroke-width="1" shape-rendering="crispEdges"/>
<line x1="396.60" y1="50.44" x2="398.60" y2="50.44" stroke="#000" stroke-width="1" shape-rendering="crispEdges"/>
<line x1="396.60" y1="48.98" x2="398.60" y2="48.98" stroke="#000" stroke-width="1" shape-rendering="crispEdges"/>
<line x1="396.60" y1="47.51" x2="398.60" y2="47.51" stroke="#000" stroke-width="1" shape-rendering="crispEdges"/>
<line x1="395.60" y1="46.05" x2="398.60" y2="46.05" stroke="#000" stroke-width="1.2"/>
<line x1="396.60" y1="44.58" x2="398.60" y2="44.58" stroke="#000" stroke-width="1" shape-rendering="crispEdges"/>
<line x1="396.60" y1="43.12" x2="398.60" y2="43.12" stroke="#000" stroke-width="1" shape-rendering="crispEdges"/>
<line x1="396.60" y1="41.66" x2="398.60" y2="41.66" stroke="#000" stroke-width="1" shape-rendering="crispEdges"/>
<line x1="396.60" y1="40.19" x2="398.60" y2="40.19" stroke="#000" stroke-width="1" shape-rendering="crispEdges"/>
<line x1="396.60" y1="38.72" x2="398.60" y2="38.72" stroke="#000" stroke-width="1" shape-rendering="crispEdges"/>
<line x1="396.60" y1="37.26" x2="398.60" y2="37.26" stroke="#000" stroke-width="1" shape-rendering="crispEdges"/>
<line x1="396.60" y1="35.79" x2="398.60" y2="35.79" stroke="#000" stroke-width="1" shape-rendering="crispEdges"/>
<line x1="396.60" y1="34.33" x2="398.60" y2="34.33" stroke="#000" stroke-width="1" shape-rendering="crispEdges"/>
<line x1="396.60" y1="32.86" x2="398.60" y2="32.86" stroke="#000" stroke-width="1" shape-rendering="crispEdges"/>
<line x1="394.60" y1="31.40" x2="398.60" y2="31.40" stroke="#000" stroke-width="1.2"/>
<line x1="396.60" y1="29.94" x2="398.60" y2="29.94" stroke="#000" stroke-width="1" shape-rendering="crispEdges"/>
<line x1="396.60" y1="28.47" x2="398.60" y2="28.47" stroke="#000" stroke-width="1" shape-rendering="crispEdges"/>
<line x1="396.60" y1="27.00" x2="398.60" y2="27.00" stroke="#000" stroke-width="1" shape-rendering="crispEdges"/>
<line x1="396.60" y1="25.54" x2="398.60" y2="25.54" stroke="#000" stroke-width="1" shape-rendering="crispEdges"/>
<line x1="396.60" y1="24.07" x2="398.60" y2="24.07" stroke="#000" stroke-width="1" shape-rendering="crispEdges"/>
<line x1="396.60" y1="22.61" x2="398.60" y2="22.61" stroke="#000" stroke-width="1" shape-rendering="crispEdges"/>
<line x1="396.60" y1="21.14" x2="398.60" y2="21.14" stroke="#000" stroke-width="1" shape-rendering="crispEdges"/>
<line x1="396.60" y1="19.68" x2="398.60" y2="19.68" stroke="#000" stroke-width="1" shape-rendering="crispEdges"/>
<line x1="396.60" y1="18.21" x2="398.60" y2="18.21" stroke="#000" stroke-width="1" shape-rendering="crispEdges"/>
<line x1="395.60" y1="16.75" x2="398.60" y2="16.75" stroke="#000" stroke-width="1.2"/>
<text x="392.30" y="210.60" font-size="10.5" text-anchor="end" fill="#1a1a1a" stroke="#1a1a1a" stroke-width="0.25">2<tspan font-size="7" dy="-5.0">-6</tspan></text>
<text x="392.30" y="181.30" font-size="10.5" text-anchor="end" fill="#1a1a1a" stroke="#1a1a1a" stroke-width="0.25">2<tspan font-size="7" dy="-5.0">-4</tspan></text>
<text x="392.30" y="152.00" font-size="10.5" text-anchor="end" fill="#1a1a1a" stroke="#1a1a1a" stroke-width="0.25">2<tspan font-size="7" dy="-5.0">-2</tspan></text>
<text x="392.30" y="122.70" font-size="10.5" text-anchor="end" fill="#1a1a1a" stroke="#1a1a1a" stroke-width="0.25">2<tspan font-size="7" dy="-5.0">0</tspan></text>
<text x="392.30" y="93.40" font-size="10.5" text-anchor="end" fill="#1a1a1a" stroke="#1a1a1a" stroke-width="0.25">2<tspan font-size="7" dy="-5.0">2</tspan></text>
<text x="392.30" y="64.10" font-size="10.5" text-anchor="end" fill="#1a1a1a" stroke="#1a1a1a" stroke-width="0.25">2<tspan font-size="7" dy="-5.0">4</tspan></text>
<text x="392.30" y="34.80" font-size="10.5" text-anchor="end" fill="#1a1a1a" stroke="#1a1a1a" stroke-width="0.25">2<tspan font-size="7" dy="-5.0">6</tspan></text>
<line x1="426.20" y1="216.80" x2="426.20" y2="220.80" stroke="#000" stroke-width="1"/>
<line x1="480.03" y1="216.80" x2="480.03" y2="220.80" stroke="#000" stroke-width="1"/>
<line x1="533.86" y1="216.80" x2="533.86" y2="220.80" stroke="#000" stroke-width="1"/>
<line x1="587.69" y1="216.80" x2="587.69" y2="220.80" stroke="#000" stroke-width="1"/>
<line x1="641.52" y1="216.80" x2="641.52" y2="220.80" stroke="#000" stroke-width="1"/>
<line x1="399.30" y1="216.80" x2="399.30" y2="219.30" stroke="#000" stroke-width="1"/>
<line x1="453.12" y1="216.80" x2="453.12" y2="219.30" stroke="#000" stroke-width="1"/>
<line x1="506.94" y1="216.80" x2="506.94" y2="219.30" stroke="#000" stroke-width="1"/>
<line x1="560.78" y1="216.80" x2="560.78" y2="219.30" stroke="#000" stroke-width="1"/>
<line x1="614.61" y1="216.80" x2="614.61" y2="219.30" stroke="#000" stroke-width="1"/>
<text x="426.20" y="232.50" font-size="11" text-anchor="middle" fill="#1a1a1a" stroke="#1a1a1a" stroke-width="0.25" >50 nm</text>
<text x="480.03" y="232.50" font-size="11" text-anchor="middle" fill="#1a1a1a" stroke="#1a1a1a" stroke-width="0.25" >100 nm</text>
<text x="533.86" y="232.50" font-size="11" text-anchor="middle" fill="#1a1a1a" stroke="#1a1a1a" stroke-width="0.25" >200 nm</text>
<text x="587.69" y="232.50" font-size="11" text-anchor="middle" fill="#1a1a1a" stroke="#1a1a1a" stroke-width="0.25" >300 nm</text>
<text x="641.52" y="232.50" font-size="11" text-anchor="middle" fill="#1a1a1a" stroke="#1a1a1a" stroke-width="0.25" >500 nm</text>
<text x="533.80" y="252.00" font-size="11.25" text-anchor="middle" fill="#1a1a1a" stroke="#1a1a1a" stroke-width="0.25" >Size of magnetic particle</text>
<text transform="translate(370.6,115.9) rotate(-90)" font-size="10.85" text-anchor="middle" fill="#1a1a1a" stroke="#1a1a1a" stroke-width="0.25">Rate of resistance change (%)</text>
<line x1="668.50" y1="16.40" x2="668.50" y2="217.40" stroke="#1010ff" stroke-width="1.2"/>
<line x1="668.50" y1="216.80" x2="672.50" y2="216.80" stroke="#1010ff" stroke-width="1"/>
<line x1="668.50" y1="188.08" x2="670.50" y2="188.08" stroke="#1010ff" stroke-width="1"/>
<line x1="668.50" y1="159.35" x2="672.50" y2="159.35" stroke="#1010ff" stroke-width="1"/>
<line x1="668.50" y1="130.62" x2="670.50" y2="130.62" stroke="#1010ff" stroke-width="1"/>
<line x1="668.50" y1="101.90" x2="672.50" y2="101.90" stroke="#1010ff" stroke-width="1"/>
<line x1="668.50" y1="73.18" x2="670.50" y2="73.18" stroke="#1010ff" stroke-width="1"/>
<line x1="668.50" y1="44.45" x2="672.50" y2="44.45" stroke="#1010ff" stroke-width="1"/>
<line x1="668.50" y1="15.72" x2="670.50" y2="15.72" stroke="#1010ff" stroke-width="1"/>
<text x="674.80" y="220.70" font-size="11" text-anchor="start" fill="#1010ff" stroke="#1010ff" stroke-width="0.25" >0</text>
<text x="674.80" y="163.25" font-size="11" text-anchor="start" fill="#1010ff" stroke="#1010ff" stroke-width="0.25" >100</text>
<text x="674.80" y="105.80" font-size="11" text-anchor="start" fill="#1010ff" stroke="#1010ff" stroke-width="0.25" >200</text>
<text x="674.80" y="48.35" font-size="11" text-anchor="start" fill="#1010ff" stroke="#1010ff" stroke-width="0.25" >300</text>
<text transform="translate(707,124) rotate(-90)" font-size="11" text-anchor="middle" fill="#1010ff" stroke="#1010ff" stroke-width="0.25">S/N</text>
<line x1="429.30" y1="57.33" x2="476.70" y2="57.77" stroke="#1010ff" stroke-width="1.6"/>
<line x1="481.31" y1="60.83" x2="532.39" y2="179.27" stroke="#1010ff" stroke-width="1.6"/>
<line x1="536.80" y1="183.43" x2="584.50" y2="200.87" stroke="#1010ff" stroke-width="1.6"/>
<line x1="590.80" y1="202.82" x2="638.10" y2="214.98" stroke="#1010ff" stroke-width="1.6"/>
<clipPath id="cb"><rect x="399.3" y="0" width="269.2" height="216.8"/></clipPath>
<g clip-path="url(#cb)">
<path d="M426 53.5 L429.8 57.3 L426 61.099999999999994 L422.2 57.3 Z" fill="none" stroke="#1010ff" stroke-width="1.3"/><circle cx="426" cy="57.3" r="0.75" fill="#1010ff"/>
<path d="M480 54.0 L483.8 57.8 L480 61.599999999999994 L476.2 57.8 Z" fill="none" stroke="#1010ff" stroke-width="1.3"/><circle cx="480" cy="57.8" r="0.75" fill="#1010ff"/>
<path d="M533.7 178.5 L537.5 182.3 L533.7 186.10000000000002 L529.9000000000001 182.3 Z" fill="none" stroke="#1010ff" stroke-width="1.3"/><circle cx="533.7" cy="182.3" r="0.75" fill="#1010ff"/>
<path d="M587.6 198.2 L591.4 202.0 L587.6 205.8 L583.8000000000001 202.0 Z" fill="none" stroke="#1010ff" stroke-width="1.3"/><circle cx="587.6" cy="202.0" r="0.75" fill="#1010ff"/>
<path d="M641.3 212.0 L645.0999999999999 215.8 L641.3 219.60000000000002 L637.5 215.8 Z" fill="none" stroke="#1010ff" stroke-width="1.3"/><circle cx="641.3" cy="215.8" r="0.75" fill="#1010ff"/>
</g>
<text x="361.3" y="16.0" font-size="20.8" font-weight="bold" fill="#000">b</text>
</svg>
</body></html>
